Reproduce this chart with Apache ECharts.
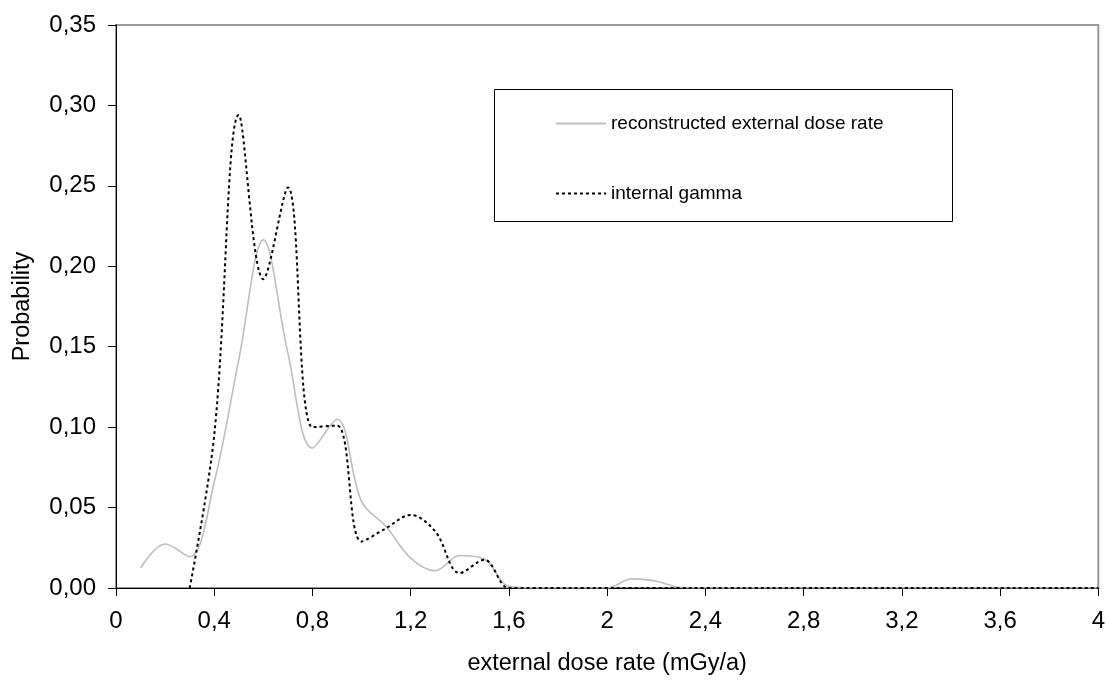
<!DOCTYPE html>
<html>
<head>
<meta charset="utf-8">
<script src="https://cdn.jsdelivr.net/npm/echarts@6/dist/echarts.min.js"></script>
<style>
  html, body { margin: 0; padding: 0; background: #fff; }
  #chart { width: 1108px; height: 681px; }
</style>
</head>
<body>
<div id="chart"></div>
<script>
// dose rate steps (mGy/a)
const doseRates = [
  0.0, 0.1, 0.2, 0.3, 0.4, 0.5, 0.6, 0.7, 0.8, 0.9,
  1.0, 1.1, 1.2, 1.3, 1.4, 1.5, 1.6, 1.7, 1.8, 1.9,
  2.0, 2.1, 2.2, 2.3, 2.4, 2.5, 2.6, 2.7, 2.8, 2.9,
  3.0, 3.1, 3.2, 3.3, 3.4, 3.5, 3.6, 3.7, 3.8, 3.9, 4.0
]
// reconstructed external dose rate (null = no value)
const reconstructed = [
  null, 0.0124, 0.0274, 0.0195, 0.0659, 0.142, 0.2164, 0.146, 0.087, 0.1049,
  0.0537, 0.0382, 0.0186, 0.0107, 0.0202, 0.018, 0.001, 0, 0, 0,
  0, 0.0057, 0.0042, 0.0003, 0, 0, 0, 0, 0, 0,
  0, 0, 0, 0, 0, 0, 0, 0, 0, 0, 0
]
// internal gamma
const internalGamma = [
  null, null, null, 0, 0.095, 0.294, 0.192, 0.249, 0.100, 0.101,
  0.0289, 0.0372, 0.0454, 0.0351, 0.0093, 0.0175, 0, 0, 0, 0,
  0, 0, 0, 0, 0, 0, 0, 0, 0, 0,
  0, 0, 0, 0, 0, 0, 0, 0, 0, 0, 0
]
const seriesNames = ['reconstructed external dose rate', 'internal gamma']

function toPairs(ys) {
  const out = []
  ys.forEach((y, i) => {
    if (y !== null) out.push([doseRates[i], y])
  })
  return out
}

const font = "'Liberation Sans', Arial, sans-serif"
const chart = echarts.init(document.getElementById('chart'))
chart.setOption({
  animation: false,
  textStyle: { fontFamily: font },
  grid: {
    left: 116,
    right: 9,
    top: 25,
    bottom: 91,
    show: true,
    borderColor: '#999',
    borderWidth: 2
  },
  legend: {
    orient: 'vertical',
    left: 555,
    top: 114,
    padding: 0,
    itemGap: 51,
    itemWidth: 50,
    itemHeight: 14,
    itemStyle: { opacity: 0 },
    textStyle: { fontSize: 19, color: '#000', fontFamily: font },
    data: seriesNames
  },
  graphic: [{
    type: 'rect',
    left: 492,
    top: 87,
    shape: { width: 458, height: 132 },
    style: { fill: 'none', stroke: '#000', lineWidth: 1 },
    z: -1
  }],
  xAxis: {
    type: 'value',
    min: 0,
    max: 4,
    interval: 0.4,
    name: 'external dose rate (mGy/a)',
    nameLocation: 'middle',
    nameGap: 64,
    nameTextStyle: { fontSize: 23.5, color: '#000', fontFamily: font },
    axisLine: { lineStyle: { color: '#000', width: 1 } },
    axisTick: { length: 8, lineStyle: { color: '#000' } },
    axisLabel: {
      fontSize: 24,
      color: '#000',
      margin: 21,
      formatter: v => String(Math.round(v * 10) / 10).replace('.', ',')
    },
    splitLine: { show: false }
  },
  yAxis: {
    type: 'value',
    min: 0,
    max: 0.35,
    interval: 0.05,
    name: 'Probability',
    nameLocation: 'middle',
    nameGap: 81,
    nameTextStyle: { fontSize: 23.5, color: '#000', fontFamily: font },
    axisLine: { show: true, lineStyle: { color: '#000', width: 1 } },
    axisTick: { show: true, length: 8, lineStyle: { color: '#000' } },
    axisLabel: {
      fontSize: 24,
      color: '#000',
      margin: 20,
      formatter: v => v.toFixed(2).replace('.', ',')
    },
    splitLine: { show: false }
  },
  series: [
    {
      name: seriesNames[0],
      type: 'line',
      smooth: 0.36,
      symbol: 'none',
      lineStyle: { color: '#bdbdbd', width: 1.6 },
      itemStyle: { color: '#bdbdbd' },
      data: toPairs(reconstructed)
    },
    {
      name: seriesNames[1],
      type: 'line',
      smooth: 0.36,
      symbol: 'none',
      lineStyle: { color: '#000', width: 2, type: [3, 3] },
      itemStyle: { color: '#000' },
      data: toPairs(internalGamma)
    }
  ]
})
</script>
</body>
</html>
